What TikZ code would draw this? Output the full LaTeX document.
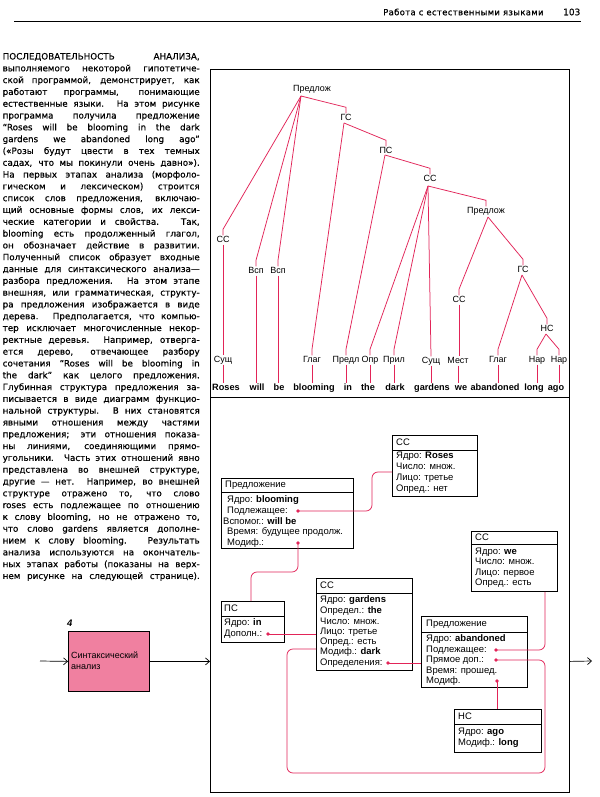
\documentclass[tikz,border=0pt]{standalone}
\usepackage{fontspec}
\setmainfont{Liberation Sans}
\newfontfamily\colfont[FakeBold=0.45]{DejaVu Sans}
\newfontfamily\hdfont[LetterSpace=4,FakeBold=0.6]{DejaVu Sans}
\usetikzlibrary{arrows.meta,calc}
\definecolor{lred}{RGB}{226,36,88}
\definecolor{lpink}{RGB}{240,128,160}
\newcommand\jl[1]{\makebox[\linewidth][s]{#1}\par}
\newcommand\tbr[2]{\draw[tr] (#1) -- ($(#2.north)+(0,-6)$) -- (#2.north);}
\newcommand\tvv[2]{\draw[tr] (#1.south) -- (#1.south |- #2.north);}
\tikzset{
  tl/.style={font=\fontsize{9}{10}\selectfont, inner sep=0.5bp, text height=6.4bp, text depth=1.6bp},
  wd/.style={font=\fontsize{9.2}{10}\selectfont\bfseries, inner sep=0.5bp, text height=6.6bp, text depth=1.8bp},
  tr/.style={lred, line width=0.75bp},
  bx/.style={draw=black, line width=0.8bp, inner sep=0bp, anchor=north west},
  bt/.style={font=\fontsize{9.5}{10}\selectfont, anchor=west, inner sep=0bp, text height=6.9bp, text depth=2bp},
  arr/.style={line width=0.7bp, -{Straight Barb[length=4bp,width=7bp]}},
  dotf/.style={fill=lred}
}
\begin{document}
\begin{tikzpicture}[x=1bp,y=-1bp]
\useasboundingbox (0,0) rectangle (600,797);
\fill[white] (0,0) rectangle (600,797);

% header
\node[anchor=west, inner sep=0bp, font=\hdfont\fontsize{8.5}{10}\selectfont] (hd) at (383,12) {Работа с естественными языками};
\node[anchor=west, inner sep=0bp, font=\colfont\fontsize{9}{10}\selectfont] (pg) at (563,12) {103};
\coordinate (hl1) at (14,21);
\coordinate (hl2) at (581,21);
\draw[line width=0.8bp] (hl1) -- (hl2);

% text column
\node[anchor=base west, inner sep=0bp] (col) at (2.5,59.5) {\parbox[t]{197bp}{\colfont\fontsize{8.8}{11.85}\selectfont
\jl{ПОСЛЕДОВАТЕЛЬНОСТЬ АНАЛИЗА,}
\jl{выполняемого некоторой гипотетиче-}
\jl{ской программой, демонстрирует, как}
\jl{работают программы, понимающие}
\jl{естественные языки. На этом рисунке}
\jl{программа получила предложение}
\jl{“Roses will be blooming in the dark}
\jl{gardens we abandoned long ago”}
\jl{(«Розы будут цвести в тех темных}
\jl{садах, что мы покинули очень давно»).}
\jl{На первых этапах анализа (морфоло-}
\jl{гическом и лексическом) строится}
\jl{список слов предложения, включаю-}
\jl{щий основные формы слов, их лекси-}
\jl{ческие категории и свойства. Так,}
\jl{blooming есть продолженный глагол,}
\jl{он обозначает действие в развитии.}
\jl{Полученный список образует входные}
\jl{данные для синтаксического анализа—}
\jl{разбора предложения. На этом этапе}
\jl{внешняя, или грамматическая, структу-}
\jl{ра предложения изображается в виде}
\jl{дерева. Предполагается, что компью-}
\jl{тер исключает многочисленные некор-}
\jl{ректные деревья. Например, отверга-}
\jl{ется дерево, отвечающее разбору}
\jl{сочетания “Roses will be blooming in}
\jl{the dark” как целого предложения.}
\jl{Глубинная структура предложения за-}
\jl{писывается в виде диаграмм функцио-}
\jl{нальной структуры. В них становятся}
\jl{явными отношения между частями}
\jl{предложения; эти отношения показа-}
\jl{ны линиями, соединяющими прямо-}
\jl{угольники. Часть этих отношений явно}
\jl{представлена во внешней структуре,}
\jl{другие — нет. Например, во внешней}
\jl{структуре отражено то, что слово}
\jl{roses есть подлежащее по отношению}
\jl{к слову blooming, но не отражено то,}
\jl{что слово gardens является дополне-}
\jl{нием к слову blooming. Результать}
\jl{анализа используются на окончатель-}
\jl{ных этапах работы (показаны на верх-}
\jl{нем рисунке на следующей странице).}
}};

% frame
\node[bx, line width=1bp, minimum width=359bp, minimum height=723bp] (frame) at (210,69) {};
\draw[line width=1bp] (frame.west |- 0,397) -- (frame.east |- 0,397);

% pink box and arrows
\node[bx, fill=lpink, minimum width=81bp, minimum height=60bp] (syn) at (68,631) {};
\node[anchor=west, inner sep=0bp, align=left, font=\fontsize{9}{11}\selectfont] (syntxt) at (71,661) {Синтаксический\\анализ};
\node[anchor=west, inner sep=0bp, font=\fontsize{9.5}{10}\selectfont\bfseries\itshape] (num) at (67,623) {4};
\coordinate (inA) at (40,661);
\coordinate (outA) at (592,661);
\draw[arr] (inA) -- (syn.west);
\draw[arr] (syn.east) -- (frame.west |- syn.east);
\draw[arr] (frame.east |- syn.east) -- (outA);

% tree: phrase nodes
\node[tl] (P1) at (312,89) {Предлож};
\node[tl] (GS1) at (346,118) {ГС};
\node[tl] (PS) at (386,151) {ПС};
\node[tl] (CC1) at (430,179) {СС};
\node[tl] (P2) at (486,211) {Предлож};
\node[tl] (CCL) at (223,240) {СС};
\node[tl] (V1) at (256,271) {Всп};
\node[tl] (V2) at (278,271) {Всп};
\node[tl] (CC2) at (459,300) {СС};
\node[tl] (GS2) at (523,270) {ГС};
\node[tl] (NS) at (547,329) {НС};
% categories
\node[tl] (S1) at (223,360) {Сущ};
\node[tl] (G1) at (312,360) {Глаг};
\node[tl] (Pr) at (346,360) {Предл};
\node[tl] (O) at (370,360) {Опр};
\node[tl] (A) at (394,360) {Прил};
\node[tl] (S2) at (431,361) {Сущ};
\node[tl] (M) at (458,361) {Мест};
\node[tl] (G2) at (498,360) {Глаг};
\node[tl] (N1) at (537,360) {Нар};
\node[tl] (N2) at (559,360) {Нар};
% words
\node[wd] (w1) at (226,388) {Roses};
\node[wd] (w2) at (257,388) {will};
\node[wd] (w3) at (279,388) {be};
\node[wd] (w4) at (314,388) {blooming};
\node[wd] (w5) at (348,388) {in};
\node[wd] (w6) at (368,388) {the};
\node[wd] (w7) at (395,388) {dark};
\node[wd] (w8) at (432,388) {gardens};
\node[wd] (w9) at (461,388) {we};
\node[wd] (w10) at (495,388) {abandoned};
\node[wd] (w11) at (534,388) {long};
\node[wd] (w12) at (556,388) {ago};

% branch origins
\coordinate (P1o) at (301,96);
\coordinate (GS1o) at (344,123);
\coordinate (PSo) at (385,155);
\coordinate (CC1o) at (428,186);
\coordinate (P2o) at (488,217);
\coordinate (GS2o) at (522,275);
\coordinate (NSo) at (546,334);

\tbr{P1o}{GS1}
\tbr{P1o}{CCL}
\tbr{P1o}{V1}
\tbr{P1o}{V2}
\tbr{GS1o}{PS}
\tbr{GS1o}{G1}
\tbr{PSo}{CC1}
\tbr{PSo}{Pr}
\tbr{CC1o}{P2}
\tbr{CC1o}{O}
\tbr{CC1o}{A}
\draw[tr] (CC1o) -- (S2.north);
\tbr{P2o}{CC2}
\tbr{P2o}{GS2}
\tbr{GS2o}{G2}
\tbr{GS2o}{NS}
\tbr{NSo}{N1}
\tbr{NSo}{N2}

\tvv{CCL}{S1}
\tvv{S1}{w1}
\tvv{V1}{w2}
\tvv{V2}{w3}
\tvv{G1}{w4}
\tvv{Pr}{w5}
\tvv{O}{w6}
\tvv{A}{w7}
\tvv{S2}{w8}
\tvv{CC2}{M}
\tvv{M}{w9}
\tvv{G2}{w10}
\tvv{N1}{w11}
\tvv{N2}{w12}

% ---- functional structure boxes ----
% Box 1
\node[bx, minimum width=132bp, minimum height=70bp] (b1) at (221,478) {};
\draw[line width=0.8bp] ($(b1.north west)+(0,14)$) -- ($(b1.north east)+(0,14)$);
\node[bt] (b1t) at (225,485) {Предложение};
\node[bt] (b1r1) at (227,500) {Ядро: \textbf{blooming}};
\node[bt] (b1r2) at (227,511) {Подлежащее:};
\node[bt] (b1r3) at (223,522) {Вспомог.: \textbf{will be}};
\node[bt] (b1r4) at (227,532) {Время: будущее продолж.};
\node[bt] (b1r5) at (227,543) {Модиф.:};
% Box 2
\node[bx, minimum width=85bp, minimum height=61bp] (b2) at (392,435) {};
\draw[line width=0.8bp] ($(b2.north west)+(0,15)$) -- ($(b2.north east)+(0,15)$);
\node[bt] (b2t) at (396,443) {СС};
\node[bt] (b2r1) at (396,456) {Ядро: \textbf{Roses}};
\node[bt] (b2r2) at (396,467) {Число: множ.};
\node[bt] (b2r3) at (396,478) {Лицо: третье};
\node[bt] (b2r4) at (396,489) {Опред.: нет};
% Box 3
\node[bx, minimum width=86bp, minimum height=60bp] (b3) at (471,531) {};
\draw[line width=0.8bp] ($(b3.north west)+(0,13)$) -- ($(b3.north east)+(0,13)$);
\node[bt] (b3t) at (475,538) {СС};
\node[bt] (b3r1) at (475,552) {Ядро: \textbf{we}};
\node[bt] (b3r2) at (475,562) {Число: множ.};
\node[bt] (b3r3) at (475,573) {Лицо: первое};
\node[bt] (b3r4) at (475,583) {Опред.: есть};
% Box 4
\node[bx, minimum width=63bp, minimum height=41bp] (b4) at (221,601) {};
\draw[line width=0.8bp] ($(b4.north west)+(0,15)$) -- ($(b4.north east)+(0,15)$);
\node[bt] (b4t) at (224,609) {ПС};
\node[bt] (b4r1) at (224,623) {Ядро: \textbf{in}};
\node[bt] (b4r2) at (224,634) {Дополн.:};
% Box 5
\node[bx, minimum width=96bp, minimum height=92bp] (b5) at (316,578) {};
\draw[line width=0.8bp] ($(b5.north west)+(0,15)$) -- ($(b5.north east)+(0,15)$);
\node[bt] (b5t) at (320,586) {СС};
\node[bt] (b5r1) at (320,600) {Ядро: \textbf{gardens}};
\node[bt] (b5r2) at (320,611) {Определ.: \textbf{the}};
\node[bt] (b5r3) at (320,622) {Число: множ.};
\node[bt] (b5r4) at (320,632) {Лицо: третье};
\node[bt] (b5r5) at (320,642) {Опред.: есть};
\node[bt] (b5r6) at (320,652) {Модиф.: \textbf{dark}};
\node[bt] (b5r7) at (320,663) {Определения:};
% Box 6
\node[bx, minimum width=106bp, minimum height=71bp] (b6) at (421,616) {};
\draw[line width=0.8bp] ($(b6.north west)+(0,16)$) -- ($(b6.north east)+(0,16)$);
\node[bt] (b6t) at (426,624) {Предложение};
\node[bt] (b6r1) at (426,639) {Ядро: \textbf{abandoned}};
\node[bt] (b6r2) at (426,650) {Подлежащее:};
\node[bt] (b6r3) at (426,660) {Прямое доп.:};
\node[bt] (b6r4) at (426,671) {Время: прошед.};
\node[bt] (b6r5) at (426,681) {Модиф.};
% Box 7
\node[bx, minimum width=87bp, minimum height=43bp] (b7) at (454,709) {};
\draw[line width=0.8bp] ($(b7.north west)+(0,15)$) -- ($(b7.north east)+(0,15)$);
\node[bt] (b7t) at (458,717) {НС};
\node[bt] (b7r1) at (458,732) {Ядро: \textbf{ago}};
\node[bt] (b7r2) at (458,743) {Модиф.: \textbf{long}};

% dots
\coordinate (d1) at (298,511);
\coordinate (d2) at (298,543);
\coordinate (d3) at (268,634);
\coordinate (d4) at (388,663);
\coordinate (d5) at (496,650);
\coordinate (d6) at (496,660);
\coordinate (d7) at (497,681);

\draw[tr, rounded corners=6bp] (d1) -- (372,511) -- (372,472) -- (b2.west |- 0,472);
\draw[tr, rounded corners=6bp] (d2) -- (298,572) -- (251,572) -- (b4.north west -| 251,0);
\draw[tr] (d3) -- (b5.west |- d3);
\draw[tr] (d4) -- (b6.west |- d4);
\draw[tr, rounded corners=6bp] (d5) -- (545,650) -- (b3.south west -| 545,0);
\draw[tr, rounded corners=6bp] (d6) -- (545,660) -- (545,773) -- (287,773) -- (287,649) -- (b5.west |- 0,649);
\draw[tr] (d7) -- (b7.north west -| d7);
\foreach \d in {d1,d2,d3,d4,d5,d6,d7} \fill[dotf] (\d) circle[radius=1.9bp];
\end{tikzpicture}
\end{document}
